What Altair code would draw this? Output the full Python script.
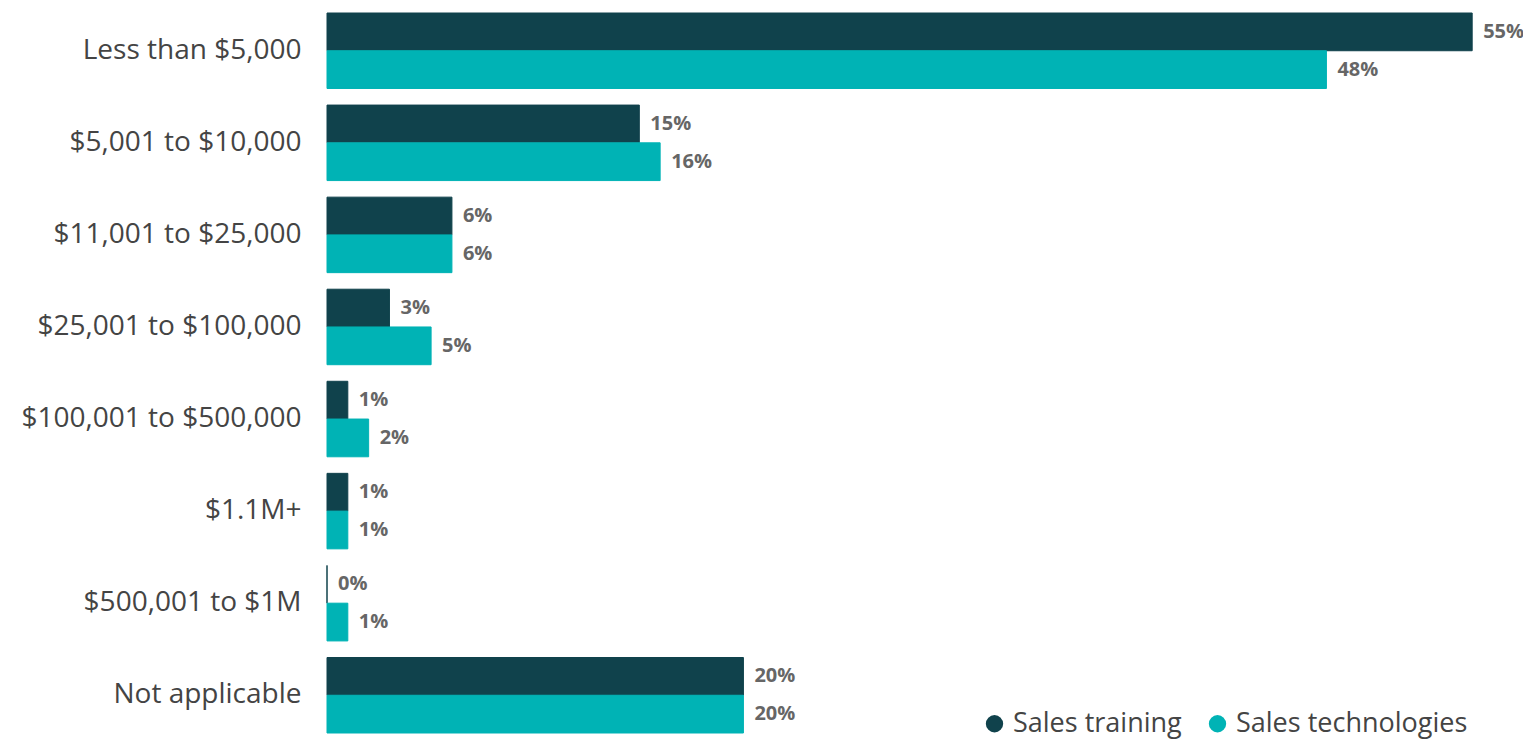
import altair as alt
import pandas as pd

categories = [
    "Less than $5,000",
    "$5,001 to $10,000",
    "$11,001 to $25,000",
    "$25,001 to $100,000",
    "$100,001 to $500,000",
    "$1.1M+",
    "$500,001 to $1M",
    "Not applicable",
]
series = ["Sales training", "Sales technologies"]
sales_training = [55, 15, 6, 3, 1, 1, 0, 20]
sales_technologies = [48, 16, 6, 5, 2, 1, 1, 20]
colors = ["#10424C", "#00B3B5"]

rows = []
for c, a, b in zip(categories, sales_training, sales_technologies):
    rows.append({"category": c, "series": series[0], "value": a, "label": f"{a}%"})
    rows.append({"category": c, "series": series[1], "value": b, "label": f"{b}%"})
df = pd.DataFrame(rows)

FONT = "Open Sans"

y_enc = alt.Y(
    "category:N",
    sort=categories,
    scale=alt.Scale(paddingInner=0.18, paddingOuter=0),
    axis=alt.Axis(
        title=None,
        ticks=False,
        domain=False,
        labelFontSize=28,
        labelFont=FONT,
        labelColor="#444444",
        labelPadding=26,
        labelLimit=400,
    ),
)
yoff = alt.YOffset("series:N", sort=series, scale=alt.Scale(paddingInner=0, paddingOuter=0))
x_enc = alt.X(
    "value:Q",
    scale=alt.Scale(domain=[0, 56], nice=False),
    axis=None,
)
color_scale = alt.Scale(domain=series, range=colors)

bars = alt.Chart(df).mark_bar(strokeWidth=1).encode(
    y=y_enc,
    yOffset=yoff,
    x=x_enc,
    color=alt.Color(
        "series:N",
        scale=color_scale,
        sort=series,
        legend=alt.Legend(
            title=None,
            orient="none",
            direction="horizontal",
            legendX=654,
            legendY=697,
            symbolType="circle",
            symbolSize=300,
            symbolStrokeWidth=0,
            labelFontSize=27,
            labelFont=FONT,
            labelColor="#444444",
            labelLimit=0,
            columnPadding=22,
            symbolOffset=0,
            labelOffset=5,
        ),
    ),
    stroke=alt.Stroke("series:N", scale=color_scale, sort=series, legend=None),
)

text = alt.Chart(df).mark_text(
    align="left",
    baseline="middle",
    dx=11,
    fontSize=20,
    fontWeight="bold",
    font=FONT,
    color="#666666",
).encode(
    y=alt.Y("category:N", sort=categories),
    yOffset=alt.YOffset("series:N", sort=series),
    x=alt.X("value:Q"),
    text="label:N",
)

chart = (
    alt.layer(bars, text)
    .properties(
        width=1166,
        height=720,
        autosize=alt.AutoSizeParams(type="none"),
        padding={"left": 319, "top": 5, "right": 30, "bottom": 7},
    )
    .configure_view(stroke=None)
)

chart.save("out.html", embed_options={"renderer": "svg", "actions": False})
